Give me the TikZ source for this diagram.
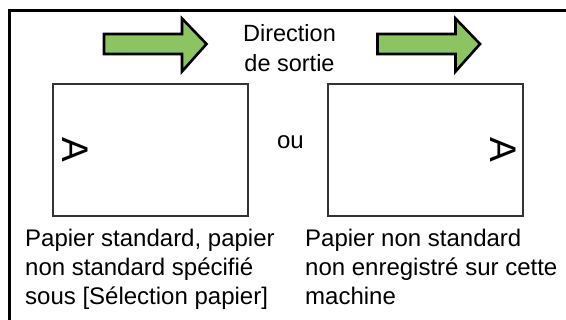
\documentclass[tikz,border=0pt]{standalone}
\usepackage{fontspec}
\setmainfont{Liberation Sans}
\usetikzlibrary{positioning}
\definecolor{outgreen}{HTML}{8CC461}
\definecolor{sheetgray}{HTML}{333333}

\begin{document}
\begin{tikzpicture}[x=1pt,y=-1pt,font=\fontsize{24}{29.3}\selectfont,
  sheet/.style={draw=sheetgray,line width=1.4pt,minimum width=195pt,minimum height=132pt,inner sep=0pt},
  outarrow/.style={draw=black,line width=2.6pt,fill=outgreen,line join=miter},
  letter/.style={font=\fontsize{37}{37}\selectfont,inner sep=0pt,rotate=-90},
  lbl/.style={align=left,inner sep=0pt,anchor=base west}]
\useasboundingbox (0,0) rectangle (566,320);
\fill[white] (0,0) rectangle (566,320);
\draw[line width=3.5pt] (9.5,320) |- (566,10.5);
% output direction arrows
\foreach \dx in {0,273.5}
  \draw[outarrow] (104+\dx,34) -- (182+\dx,34) -- (182+\dx,18.5) -- (206.5+\dx,44) -- (182+\dx,71.5) -- (182+\dx,54) -- (104+\dx,54) -- cycle;
\node[align=center,inner sep=0pt,anchor=base,font=\fontsize{23.5}{30}\selectfont] (dir) at (289.5,71.7) {Direction\\de sortie};
% paper sheets
\node[sheet] (sheetL) at (150.5,150) {};
\node[sheet] (sheetR) at (425.5,150) {};
\node[letter] (aL) at ([xshift=23pt]sheetL.west) {A};
\node[letter] (aR) at ([xshift=-20.5pt]sheetR.east) {A};
\node[inner sep=0pt,anchor=base] (ou) at (290.5,148.3) {ou};
% captions
\node[lbl] (capL) at (25,305) {Papier standard, papier\\non standard spécifié\\sous [Sélection papier]};
\node[lbl] (capR) at (305,305) {Papier non standard\\non enregistré sur cette\\machine};
\end{tikzpicture}
\end{document}
